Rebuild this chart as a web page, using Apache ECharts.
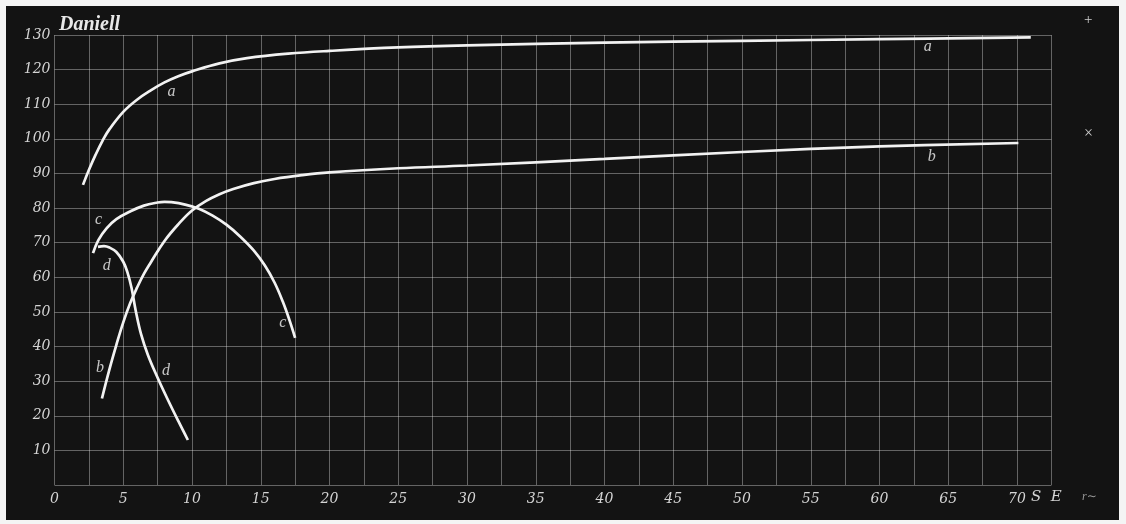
<!DOCTYPE html>
<html>
<head>
<meta charset="utf-8">
<script src="https://cdn.jsdelivr.net/npm/echarts@6/dist/echarts.min.js"></script>
<style>
  html, body { margin: 0; padding: 0; background: #f4f4f4; }
  #chart { width: 1126px; height: 524px; }
</style>
</head>
<body>
<div id="chart"></div>
<script>
// Daniell cell: voltage curves a–d (x: S.E., y: 0–130)
const xTicks = [0, 5, 10, 15, 20, 25, 30, 35, 40, 45, 50, 55, 60, 65, 70];
const yTicks = [10, 20, 30, 40, 50, 60, 70, 80, 90, 100, 110, 120, 130];

const curveA = [[2.07, 86.7], [2.5, 91.0], [3.0, 95.5], [3.5, 99.5], [4.0, 102.8], [5.0, 107.8],
  [6.0, 111.3], [7.0, 114.0], [8.0, 116.3], [9.0, 118.1], [10, 119.5], [12, 121.8], [14, 123.3],
  [17, 124.6], [20, 125.4], [25, 126.4], [30, 127.0], [40, 127.8], [50, 128.3], [60, 128.8], [71, 129.3]];
const curveB = [[3.45, 25.0], [4.0, 33.5], [4.5, 40.5], [5.0, 47.0], [5.5, 52.5], [6.0, 57.0],
  [6.5, 61.0], [7.0, 64.3], [8.0, 70.5], [9.0, 75.3], [10, 79.3], [11, 82.0], [12, 84.0], [13, 85.5],
  [14.5, 87.2], [16, 88.4], [18, 89.5], [20, 90.3], [25, 91.5], [30, 92.3], [40, 94.2], [50, 96.2],
  [60, 97.8], [70.1, 98.8]];
const curveC = [[2.8, 67.0], [3.2, 70.8], [3.8, 74.2], [4.5, 76.8], [5.5, 79.0], [6.5, 80.7],
  [7.5, 81.6], [8.0, 81.8], [8.5, 81.7], [9.5, 81.0], [10.5, 79.8], [11.5, 77.8], [12.5, 75.2],
  [13.5, 71.8], [14.5, 67.7], [15.3, 63.4], [16.0, 58.5], [16.6, 53.0], [17.1, 47.5], [17.5, 42.5]];
const curveD = [[3.16, 68.8], [3.6, 69.0], [4.0, 68.6], [4.5, 67.3], [5.0, 64.5], [5.3, 61.5],
  [5.6, 57.0], [5.9, 50.5], [6.3, 43.5], [6.8, 37.5], [7.5, 31.0], [8.2, 25.0], [9.0, 18.5], [9.7, 13.0]];

// curve letters placed at data coordinates
const curveLetters = [
  ['a', 8.5, 113.6], ['a', 63.5, 126.6],
  ['b', 63.8, 94.8], ['b', 3.3, 33.8],
  ['c', 3.2, 76.6], ['c', 16.6, 46.8],
  ['d', 3.8, 63.3], ['d', 8.1, 33.0]
];

const SERIF = '"Liberation Serif", "DejaVu Serif", serif';
const TICKFONT = '"DejaVu Serif", serif';
const INK = '#f2f2f2';
const GRID = 'rgba(235,235,235,0.38)';

const chart = echarts.init(document.getElementById('chart'));

function curve(name, data) {
  return {
    name, type: 'line', data, smooth: 0.4, symbol: 'none',
    lineStyle: { color: INK, width: 2.7 }, z: 5
  };
}

chart.setOption({
  backgroundColor: '#f4f4f4',
  animation: false,
  grid: { left: 54.5, right: 74.6, top: 35, bottom: 39 },
  xAxis: {
    type: 'value', min: 0, max: 72.5, interval: 2.5,
    axisLine: { show: false }, axisTick: { show: false },
    splitLine: { show: true, lineStyle: { color: GRID, width: 1 } },
    axisLabel: {
      color: '#d4d4d4', fontFamily: TICKFONT, fontStyle: 'italic', fontSize: 14, margin: 7,
      showMaxLabel: false,
      formatter: v => (xTicks.indexOf(v) >= 0 ? String(v) : '')
    }
  },
  yAxis: {
    type: 'value', min: 0, max: 130, interval: 10,
    axisLine: { show: false }, axisTick: { show: false },
    splitLine: { show: true, lineStyle: { color: GRID, width: 1 } },
    axisLabel: {
      color: '#d4d4d4', fontFamily: TICKFONT, fontStyle: 'italic', fontSize: 14, margin: 4,
      verticalAlign: 'middle', padding: [0, 0, 14, 0],
      formatter: v => (yTicks.indexOf(v) >= 0 ? String(v) : '')
    }
  },
  graphic: [
    { type: 'rect', z: -10, silent: true,
      shape: { x: 6, y: 6, width: 1113, height: 514 }, style: { fill: '#131313' } },
    { type: 'text', left: 59, top: 15, z: 10,
      style: { text: 'Daniell', fill: '#e8e8e8', font: 'italic bold 20px ' + SERIF } },
    { type: 'text', left: 1031, top: 490, z: 10,
      style: { text: 'S  E', fill: '#d4d4d4', font: 'italic 15px ' + TICKFONT } },
    { type: 'text', left: 1082, top: 491, z: 10,
      style: { text: 'r∼', fill: '#9a9a9a', font: 'italic 12px ' + SERIF } },
    { type: 'text', left: 1084, top: 13, z: 10,
      style: { text: '+', fill: '#cfcfcf', font: '15px ' + SERIF } },
    { type: 'text', left: 1084, top: 126, z: 10,
      style: { text: '×', fill: '#cfcfcf', font: '16px ' + SERIF } }
  ],
  series: [
    curve('a', curveA),
    curve('b', curveB),
    curve('c', curveC),
    curve('d', curveD),
    {
      name: 'letters', type: 'scatter', clip: false, symbolSize: 0, z: 6,
      data: curveLetters.map(l => ({ value: [l[1], l[2]], name: l[0] })),
      label: {
        show: true, position: 'inside', formatter: p => p.name,
        color: INK, fontFamily: SERIF, fontStyle: 'italic', fontSize: 16
      }
    }
  ]
});
</script>
</body>
</html>
